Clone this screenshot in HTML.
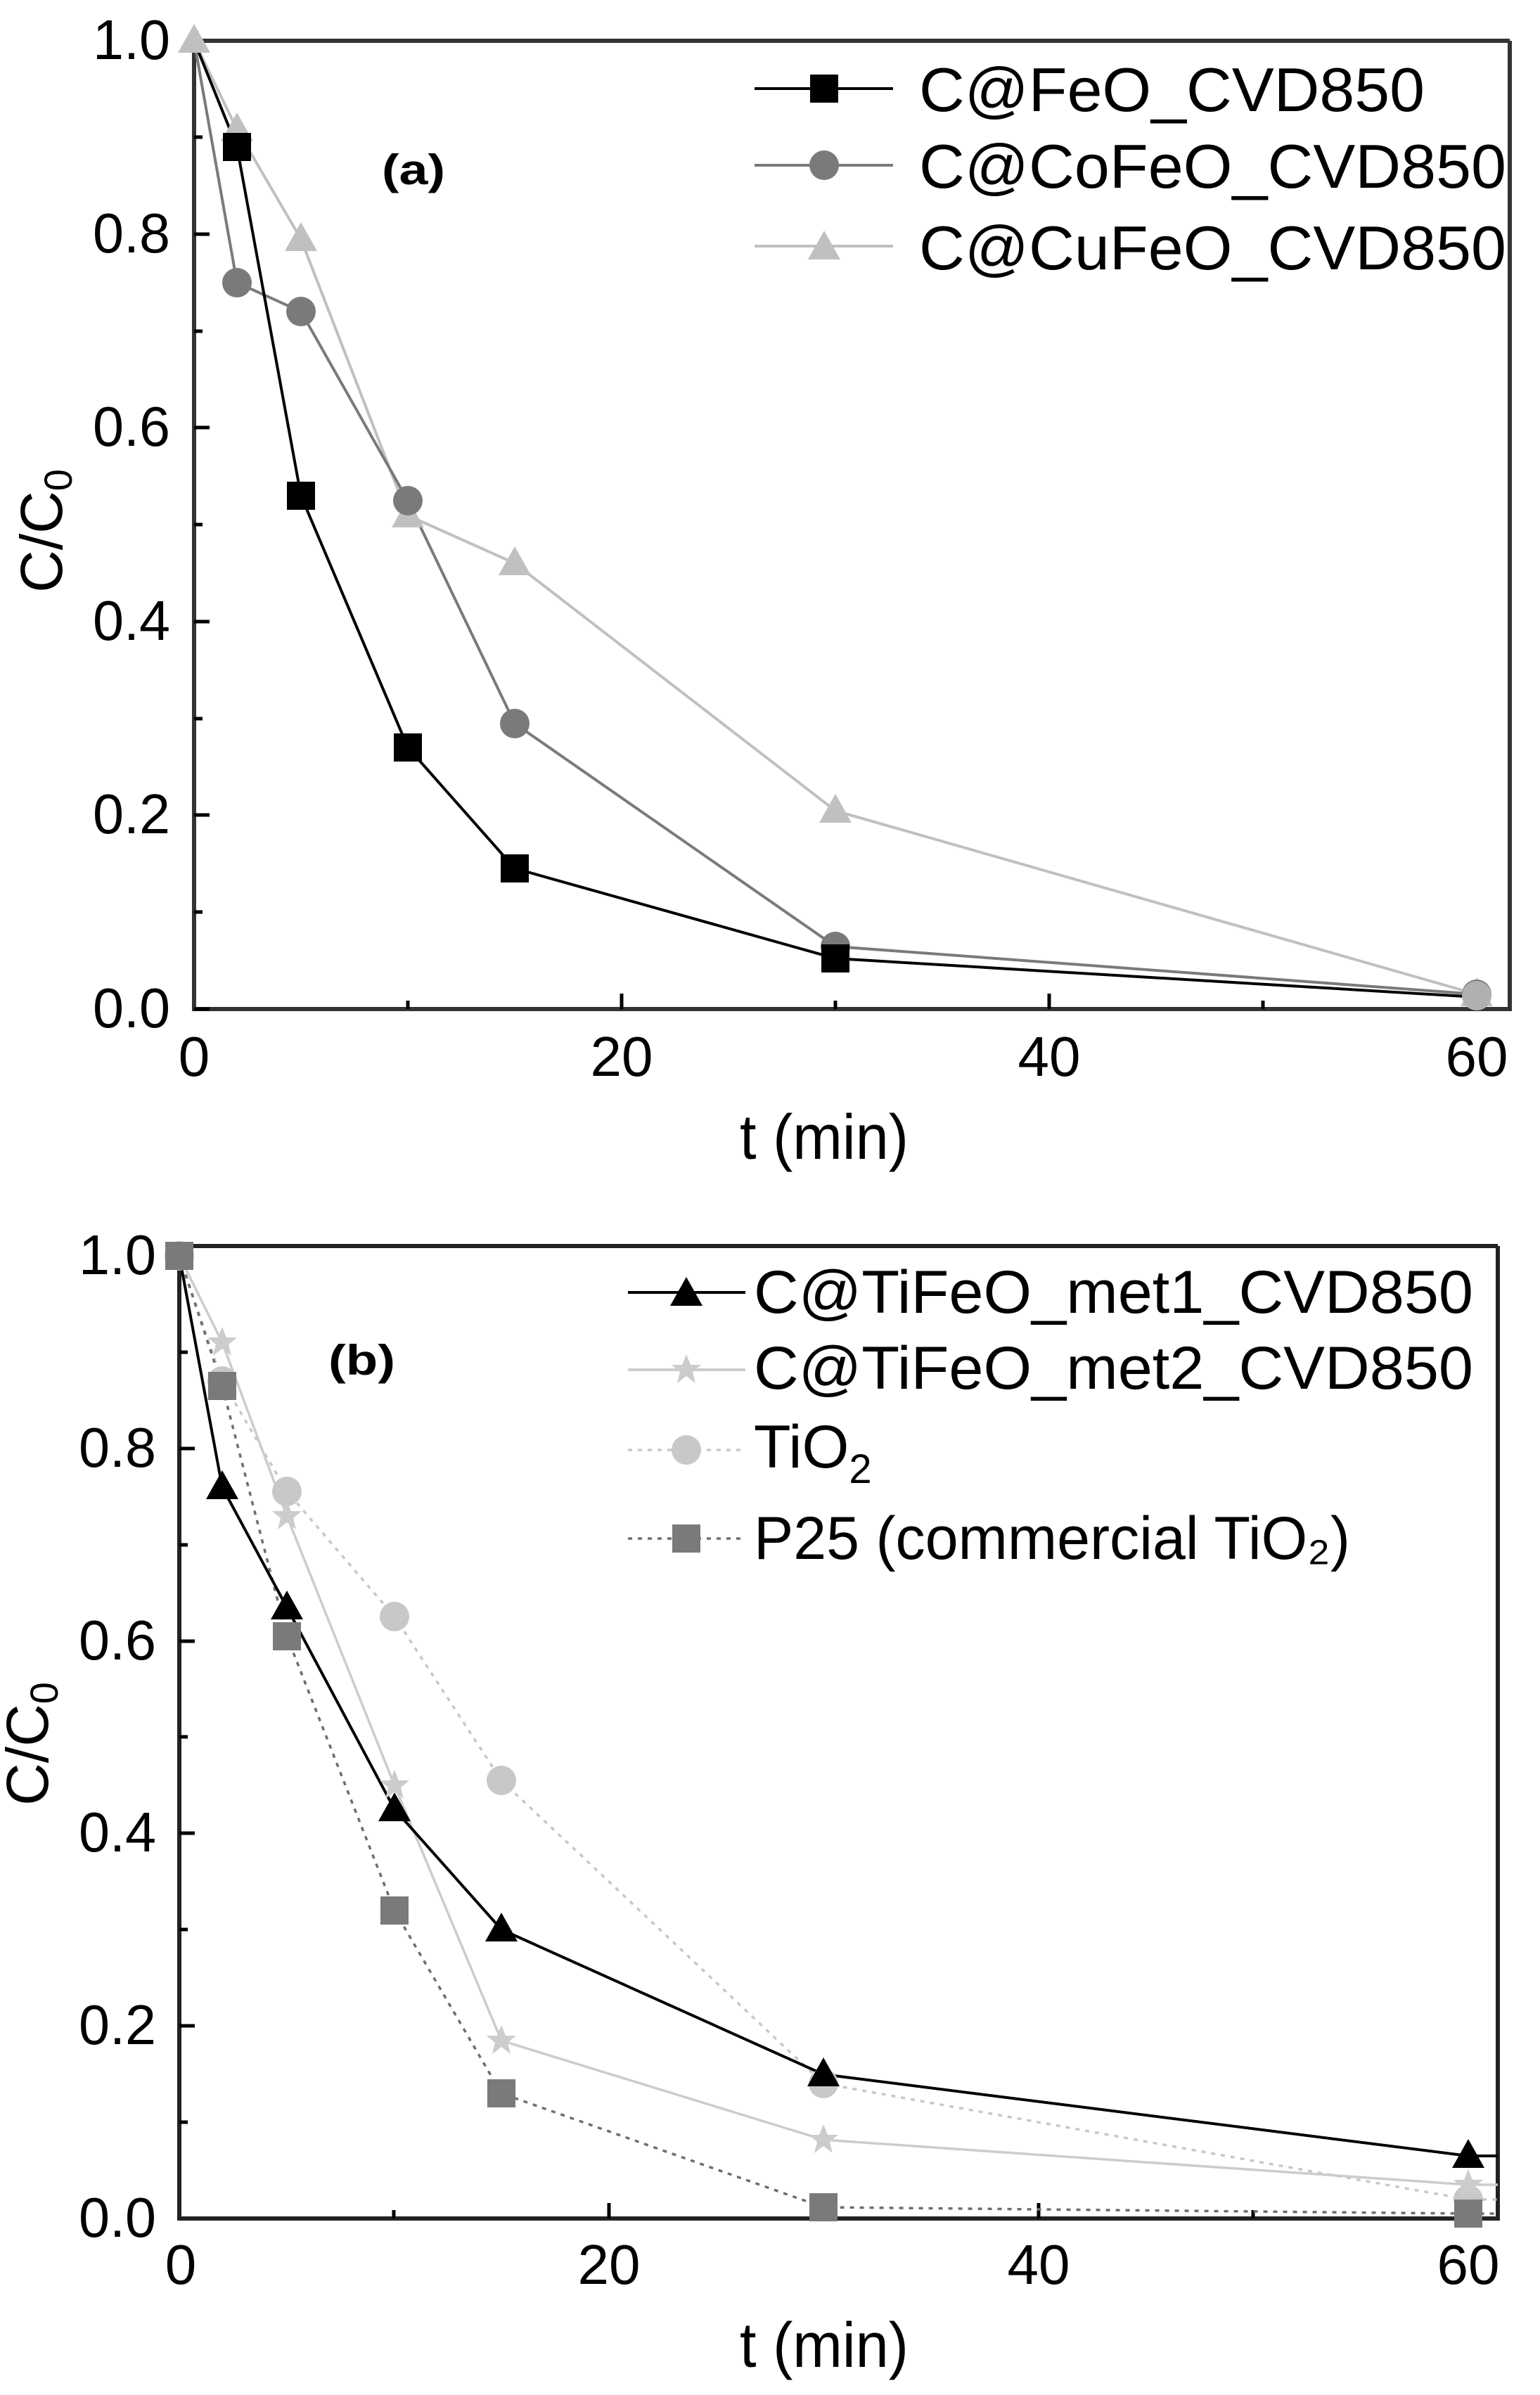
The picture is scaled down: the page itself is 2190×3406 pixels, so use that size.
<!DOCTYPE html>
<html><head><meta charset="utf-8"><style>
html,body{margin:0;padding:0;background:#fff;}
svg{display:block;}
text{font-family:"Liberation Sans",sans-serif;fill:#000;}
</style></head><body>
<svg width="2190" height="3406" viewBox="0 0 2190 3406" xmlns="http://www.w3.org/2000/svg">
<rect width="2190" height="3406" fill="#fff"/>
<defs>
<g id="sq"><rect x="-20" y="-20" width="40" height="40"/></g>
<g id="ci"><circle r="21"/></g>
<g id="tr"><polygon points="0,-24 23,17 -23,17"/></g>
<g id="st"><polygon points="0,-22 6,-7 21,-7 9,3 13,19 0,9 -13,19 -9,3 -21,-7 -6,-7"/></g>
</defs>

<!-- ============ PANEL A ============ -->
<g stroke="#000" stroke-width="6" fill="none">
<polyline points="2147,58 276,58 276,1435 2147,1435 2147,58" stroke="#333"/>
</g>
<g stroke="#000" stroke-width="5">
<line x1="276" y1="1435" x2="298" y2="1435"/>
<line x1="276" y1="1159" x2="298" y2="1159"/>
<line x1="276" y1="884" x2="298" y2="884"/>
<line x1="276" y1="608" x2="298" y2="608"/>
<line x1="276" y1="333" x2="298" y2="333"/>
<line x1="276" y1="1297" x2="288" y2="1297"/>
<line x1="276" y1="1022" x2="288" y2="1022"/>
<line x1="276" y1="746" x2="288" y2="746"/>
<line x1="276" y1="471" x2="288" y2="471"/>
<line x1="276" y1="195" x2="288" y2="195"/>
<line x1="884" y1="1435" x2="884" y2="1413"/>
<line x1="1492" y1="1435" x2="1492" y2="1413"/>
<line x1="2100" y1="1435" x2="2100" y2="1413"/>
<line x1="580" y1="1435" x2="580" y2="1423"/>
<line x1="1188" y1="1435" x2="1188" y2="1423"/>
<line x1="1796" y1="1435" x2="1796" y2="1423"/>
</g>
<g font-size="80" text-anchor="end">
<text x="242" y="1461" textLength="110" lengthAdjust="spacingAndGlyphs">0.0</text>
<text x="242" y="1185" textLength="110" lengthAdjust="spacingAndGlyphs">0.2</text>
<text x="242" y="910" textLength="110" lengthAdjust="spacingAndGlyphs">0.4</text>
<text x="242" y="634" textLength="110" lengthAdjust="spacingAndGlyphs">0.6</text>
<text x="242" y="359" textLength="110" lengthAdjust="spacingAndGlyphs">0.8</text>
<text x="242" y="84" textLength="110" lengthAdjust="spacingAndGlyphs">1.0</text>
</g>
<g font-size="80" text-anchor="middle">
<text x="276" y="1530">0</text>
<text x="884" y="1530">20</text>
<text x="1492" y="1530">40</text>
<text x="2100" y="1530">60</text>
</g>
<text x="1172" y="1648" font-size="90" text-anchor="middle" textLength="240" lengthAdjust="spacingAndGlyphs">t (min)</text>
<text transform="translate(88,755) rotate(-90)" font-size="84" text-anchor="middle">C/C<tspan font-size="56" dy="14">0</tspan></text>
<text x="543" y="262" font-family="Liberation Serif,serif" font-weight="bold" font-size="60" textLength="90" lengthAdjust="spacingAndGlyphs">(a)</text>

<g fill="none" stroke-width="4">
<polyline stroke="#c0c0c0" points="276,58 337,184 428,340 580,733 732,801 1188,1153 2100,1414"/>
<polyline stroke="#7a7a7a" points="276,58 337,402 428,443 580,712 732,1029 1188,1346 2100,1414"/>
<polyline stroke="#000" points="276,58 337,209 428,705 580,1063 732,1235 1188,1363 2100,1418"/>
</g>
<g fill="#c0c0c0">
<use href="#tr" x="276" y="58"/><use href="#tr" x="337" y="184"/><use href="#tr" x="428" y="340"/><use href="#tr" x="580" y="733"/><use href="#tr" x="732" y="801"/><use href="#tr" x="1188" y="1153"/><use href="#tr" x="2100" y="1414"/>
</g>
<g fill="#7a7a7a">
<use href="#ci" x="337" y="402"/><use href="#ci" x="428" y="443"/><use href="#ci" x="580" y="712"/><use href="#ci" x="732" y="1029"/><use href="#ci" x="1188" y="1346"/><use href="#ci" x="2100" y="1414"/>
</g>
<g fill="#000">
<use href="#sq" x="337" y="209"/><use href="#sq" x="428" y="705"/><use href="#sq" x="580" y="1063"/><use href="#sq" x="732" y="1235"/><use href="#sq" x="1188" y="1363"/>
</g>
<g fill="#b0b0b0"><use href="#ci" x="2100" y="1416"/></g>

<line x1="1073" y1="126" x2="1270" y2="126" stroke="#000" stroke-width="4"/>
<use href="#sq" x="1172" y="126" fill="#000"/>
<line x1="1073" y1="235" x2="1270" y2="235" stroke="#7a7a7a" stroke-width="4"/>
<use href="#ci" x="1172" y="235" fill="#7a7a7a"/>
<line x1="1073" y1="350" x2="1270" y2="350" stroke="#c0c0c0" stroke-width="4"/>
<use href="#tr" x="1172" y="352" fill="#c0c0c0"/>
<g font-size="88">
<text x="1307" y="158" textLength="719" lengthAdjust="spacingAndGlyphs">C@FeO_CVD850</text>
<text x="1307" y="267" textLength="835" lengthAdjust="spacingAndGlyphs">C@CoFeO_CVD850</text>
<text x="1307" y="383" textLength="835" lengthAdjust="spacingAndGlyphs">C@CuFeO_CVD850</text>
</g>

<!-- ============ PANEL B ============ -->
<polyline points="2130,1772 255,1772 255,3155 2130,3155 2130,1772" fill="none" stroke="#222" stroke-width="6"/>
<g stroke="#000" stroke-width="5">
<line x1="255" y1="2881" x2="277" y2="2881"/>
<line x1="255" y1="2607" x2="277" y2="2607"/>
<line x1="255" y1="2334" x2="277" y2="2334"/>
<line x1="255" y1="2060" x2="277" y2="2060"/>
<line x1="255" y1="3018" x2="267" y2="3018"/>
<line x1="255" y1="2744" x2="267" y2="2744"/>
<line x1="255" y1="2470" x2="267" y2="2470"/>
<line x1="255" y1="2197" x2="267" y2="2197"/>
<line x1="255" y1="1923" x2="267" y2="1923"/>
<line x1="866" y1="3155" x2="866" y2="3133"/>
<line x1="1477" y1="3155" x2="1477" y2="3133"/>
<line x1="2088" y1="3155" x2="2088" y2="3133"/>
<line x1="560" y1="3155" x2="560" y2="3143"/>
<line x1="1171" y1="3155" x2="1171" y2="3143"/>
<line x1="1782" y1="3155" x2="1782" y2="3143"/>
</g>
<g font-size="80" text-anchor="end">
<text x="222" y="3181" textLength="110" lengthAdjust="spacingAndGlyphs">0.0</text>
<text x="222" y="2907" textLength="110" lengthAdjust="spacingAndGlyphs">0.2</text>
<text x="222" y="2633" textLength="110" lengthAdjust="spacingAndGlyphs">0.4</text>
<text x="222" y="2360" textLength="110" lengthAdjust="spacingAndGlyphs">0.6</text>
<text x="222" y="2086" textLength="110" lengthAdjust="spacingAndGlyphs">0.8</text>
<text x="222" y="1812" textLength="110" lengthAdjust="spacingAndGlyphs">1.0</text>
</g>
<g font-size="80" text-anchor="middle">
<text x="257" y="3248">0</text>
<text x="866" y="3248">20</text>
<text x="1477" y="3248">40</text>
<text x="2088" y="3248">60</text>
</g>
<text x="1172" y="3366" font-size="90" text-anchor="middle" textLength="240" lengthAdjust="spacingAndGlyphs">t (min)</text>
<text transform="translate(68,2480) rotate(-90)" font-size="84" text-anchor="middle">C/C<tspan font-size="56" dy="14">0</tspan></text>
<text x="467" y="1955" font-family="Liberation Serif,serif" font-weight="bold" font-size="60" textLength="95" lengthAdjust="spacingAndGlyphs">(b)</text>

<g fill="none" stroke-width="3.5">
<polyline stroke="#c8c8c8" stroke-dasharray="6,8" points="255,1786 316,1964 408,2121 561,2299 713,2532 1171,2963 2088,3128 2130,3128"/>
<polyline stroke="#6e6e6e" stroke-dasharray="6,8" points="255,1786 316,1971 408,2327 561,2717 713,2977 1171,3139 2088,3148 2130,3148"/>
<polyline stroke="#cccccc" points="255,1786 316,1909 408,2156 561,2539 713,2902 1171,3043 2088,3107 2130,3107"/>
<polyline stroke="#000" stroke-width="4" points="255,1786 316,2115 408,2286 561,2573 713,2744 1171,2950 2088,3066 2130,3066"/>
</g>
<g fill="#c8c8c8">
<use href="#ci" x="255" y="1786"/><use href="#ci" x="316" y="1964"/><use href="#ci" x="408" y="2121"/><use href="#ci" x="561" y="2299"/><use href="#ci" x="713" y="2532"/><use href="#ci" x="1171" y="2963"/><use href="#ci" x="2088" y="3128"/>
</g>
<g fill="#cccccc">
<use href="#st" x="316" y="1909"/><use href="#st" x="408" y="2156"/><use href="#st" x="561" y="2539"/><use href="#st" x="713" y="2902"/><use href="#st" x="1171" y="3043"/><use href="#st" x="2088" y="3107"/>
</g>
<g fill="#7a7a7a">
<use href="#sq" x="255" y="1786"/><use href="#sq" x="316" y="1971"/><use href="#sq" x="408" y="2327"/><use href="#sq" x="561" y="2717"/><use href="#sq" x="713" y="2977"/><use href="#sq" x="1171" y="3139"/><use href="#sq" x="2088" y="3148"/>
</g>
<g fill="#000">
<use href="#tr" x="316" y="2115"/><use href="#tr" x="408" y="2286"/><use href="#tr" x="561" y="2573"/><use href="#tr" x="713" y="2744"/><use href="#tr" x="1171" y="2950"/><use href="#tr" x="2088" y="3066"/>
</g>

<line x1="893" y1="1838" x2="1060" y2="1838" stroke="#000" stroke-width="4"/>
<use href="#tr" x="976" y="1840" fill="#000"/>
<line x1="893" y1="1948" x2="1060" y2="1948" stroke="#cccccc" stroke-width="4"/>
<use href="#st" x="976" y="1948" fill="#cccccc"/>
<line x1="893" y1="2062" x2="1060" y2="2062" stroke="#c8c8c8" stroke-width="3.5" stroke-dasharray="6,8"/>
<use href="#ci" x="976" y="2062" fill="#c8c8c8"/>
<line x1="893" y1="2188" x2="1060" y2="2188" stroke="#6e6e6e" stroke-width="3.5" stroke-dasharray="6,8"/>
<use href="#sq" x="976" y="2188" fill="#7a7a7a"/>
<g font-size="86">
<text x="1072" y="1867" textLength="1023" lengthAdjust="spacingAndGlyphs">C@TiFeO_met1_CVD850</text>
<text x="1072" y="1975" textLength="1023" lengthAdjust="spacingAndGlyphs">C@TiFeO_met2_CVD850</text>
<text x="1072" y="2087">TiO<tspan font-size="58" dy="22">2</tspan></text>
<text x="1072" y="2217" textLength="848" lengthAdjust="spacingAndGlyphs">P25 (commercial TiO₂)</text>
</g>
</svg>
</body></html>
